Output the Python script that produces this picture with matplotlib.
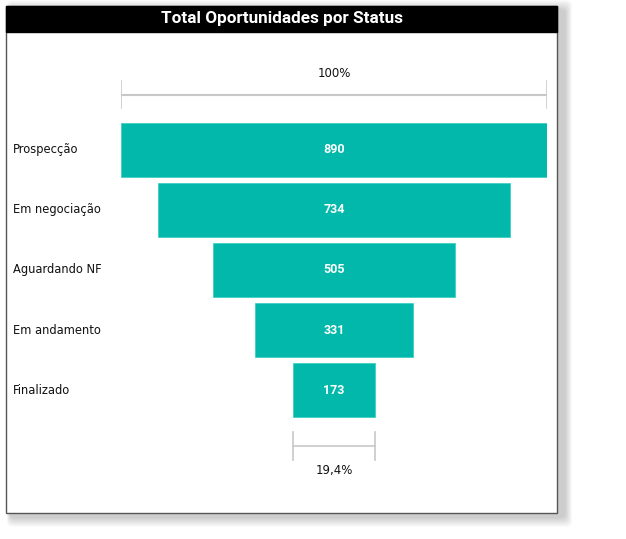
import matplotlib
matplotlib.use("Agg")
import matplotlib.pyplot as plt
from matplotlib.patches import FancyBboxPatch, Rectangle
import matplotlib.transforms as mtransforms

categories = ["Prospecção", "Em negociação", "Aguardando NF", "Em andamento", "Finalizado"]
values = [890, 734, 505, 331, 173]
top_label = "100%"
bottom_label = "19,4%"
title = "Total Oportunidades por Status"

W, H = 626, 539
fig = plt.figure(figsize=(W / 100, H / 100), dpi=100)
fig.patch.set_facecolor("white")

def fx(px):
    return px / W

def fy(py):
    return 1 - py / H

# soft shadow (offset right/down)
for k in range(10, 0, -1):
    fig.patches.append(FancyBboxPatch((fx(6 + 4 - k * 0.3), fy(513 + 4 + k)), fx(551 + 4 + k),
                                      (507 + 2 * k) / H,
                                      boxstyle="round,pad=0,rounding_size=0.01",
                                      transform=fig.transFigure, facecolor="black", alpha=0.02,
                                      edgecolor="none", zorder=0))
# card
fig.patches.append(Rectangle((fx(6), fy(513)), fx(551), 507 / H, transform=fig.transFigure,
                             facecolor="white", edgecolor="#555555", linewidth=1.0, zorder=1))
# title bar
fig.patches.append(Rectangle((fx(6), fy(32)), fx(551), 26 / H, transform=fig.transFigure,
                             facecolor="black", edgecolor="black", linewidth=1.0, zorder=2))
fig.text(fx(282), fy(18), title, color="white", fontsize=12.3, fontweight="bold",
         family="Roboto", ha="center", va="center", zorder=3)

# funnel axes: x data range mapped to pixels 121..547, y rows
ax = fig.add_axes([fx(121), fy(480), fx(426), 420 / H])
ax.set_zorder(5)
ax.set_xlim(-445, 445)
ax.set_ylim(5.5, -1.5)
ax.axis("off")
ax.patch.set_alpha(0)

ypos = list(range(len(values)))
ax.barh(ypos, values, left=[-v / 2 for v in values], height=0.9,
        color="#01B8AA", edgecolor="#3fd0c4", linewidth=0.6, zorder=3)
for y, v in zip(ypos, values):
    ax.text(0, y, f"{v}", color="white", fontsize=9, fontweight="bold", ha="center",
            va="center", family="Roboto", zorder=4)

vmax = values[0]
vmin = values[-1]
gray = "#c8c8c8"
# top bracket
ax.plot([-vmax / 2, vmax / 2], [-0.917, -0.917], color=gray, lw=1.5, zorder=2)
for xx in (-vmax / 2, vmax / 2):
    ax.plot([xx, xx], [-1.15, -0.7], color=gray, lw=1.2, zorder=2)
ax.text(0, -1.28, top_label, ha="center", va="center", fontsize=8.5, color="#111111", family="DejaVu Sans")

# bottom bracket
ax.plot([-vmin / 2, vmin / 2], [4.93, 4.93], color=gray, lw=1.2, zorder=2)
for xx in (-vmin / 2, vmin / 2):
    ax.plot([xx, xx], [4.7, 5.17], color=gray, lw=1.2, zorder=2)
ax.text(0, 5.35, bottom_label, ha="center", va="center", fontsize=8.5, color="#111111", family="DejaVu Sans")

# category labels
trans = mtransforms.blended_transform_factory(fig.transFigure, ax.transData)
for y, c in zip(ypos, categories):
    fig.text(fx(13), y, c, transform=trans, ha="left", va="center", fontsize=8.3, color="#111111",
             family="DejaVu Sans", zorder=6)

fig.savefig("out.png", dpi=100)
